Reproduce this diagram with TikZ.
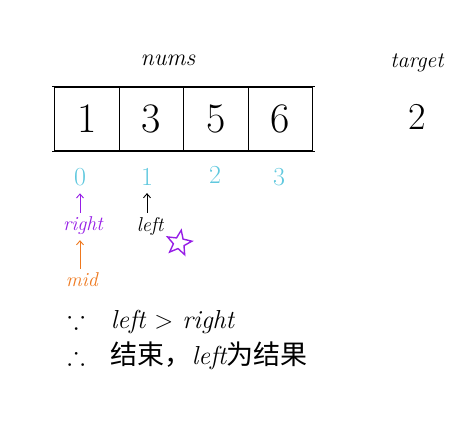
\documentclass[tikz,border=0pt]{standalone}
\usepackage{fontspec}
\usepackage{amssymb}
\newfontfamily\cjk{Noto Sans CJK SC}
\usetikzlibrary{arrows.meta}
\usetikzlibrary{shapes.geometric}
\definecolor{idxcyan}{RGB}{95,200,222}
\definecolor{ptrpurple}{RGB}{150,30,230}
\definecolor{midorange}{RGB}{238,120,30}
\newcommand{\zh}[1]{{\cjk\upshape\fontsize{27}{27}\selectfont #1}}
\tikzset{
  cell/.style={draw,line width=1.1pt,minimum width=64.5pt,minimum height=64pt,inner sep=0pt,
    font=\fontsize{42}{42}\selectfont},
  idx/.style={text=idxcyan,font=\fontsize{26}{26}\selectfont},
  ptr/.style={font=\itshape\fontsize{20}{20}\selectfont,inner sep=1pt},
  up/.style={-{Straight Barb[length=4pt,width=7pt]},line width=0.9pt,shorten <=3pt,shorten >=4pt},
  note/.style={anchor=west,font=\itshape\fontsize{26}{26}\selectfont}
}

\begin{document}
\begin{tikzpicture}[x=1pt,y=-1pt]
\useasboundingbox (0,0) rectangle (467,445);
% the array
\node[cell] (c0) at (87,119)    {1};
\node[cell] (c1) at (151.5,119) {3};
\node[cell] (c2) at (216,119)   {5};
\node[cell] (c3) at (280.5,119) {6};
\draw[line width=1.1pt] ([xshift=-2pt]c0.north west) -- ([xshift=2pt]c3.north east);
\draw[line width=1.1pt] ([xshift=-2pt]c0.south west) -- ([xshift=2pt]c3.south east);
\node[font=\itshape\fontsize{24}{24}\selectfont] (nums) at (168,60) {nums};
\node[font=\itshape\fontsize{22}{22}\selectfont] (target) at (417,63) {target};
\node[font=\fontsize{38}{38}\selectfont] (tval) at (417,117) {2};
% indices
\node[idx] (i0) at (80,177)  {0};
\node[idx] (i1) at (147,177) {1};
\node[idx] (i2) at (215,175) {2};
\node[idx] (i3) at (279,177) {3};
% pointers
\node[ptr,text=ptrpurple] (right) at (83,226) {right};
\node[ptr] (left) at (150,226) {left};
\node[ptr,text=midorange] (mid) at (82,280) {mid};
\draw[up,ptrpurple] (right.north -| i0) -- (i0.south);
\draw[up] (left.north -| i1) -- (i1.south);
\draw[up,midorange] (mid.north -| i0) -- (right.south -| i0);
\node[star,star points=5,star point ratio=2.3,draw=ptrpurple,line width=1.4pt,
  minimum size=26pt,inner sep=0pt,rotate=-10] (mark) at (179,243) {};
% conclusion
\node[note] (why) at (64,322) {$\because$\quad left $>$ right};
\node[note] (res) at (64,356) {$\therefore$\quad\zh{结束，}left\zh{为结果}};
\end{tikzpicture}
\end{document}
